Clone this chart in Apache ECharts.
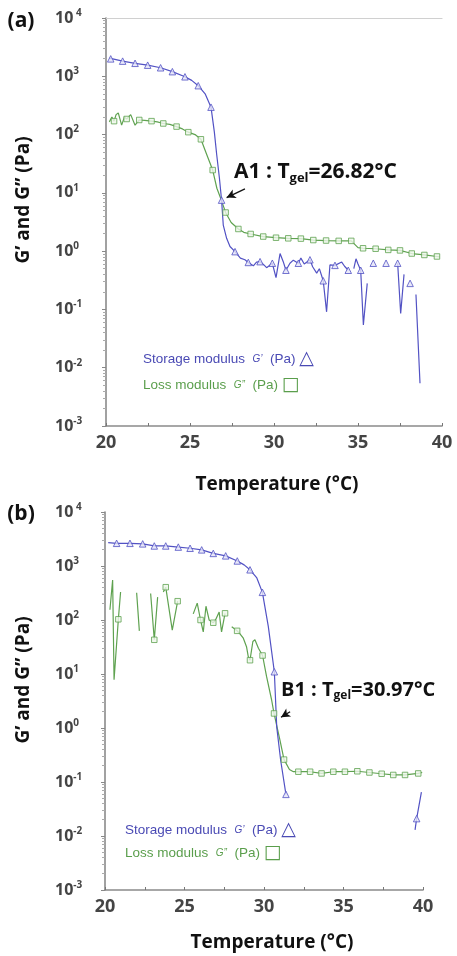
<!DOCTYPE html>
<html><head><meta charset="utf-8">
<script src="https://cdn.jsdelivr.net/npm/echarts@6/dist/echarts.min.js"></script>
<style>html,body{margin:0;padding:0;background:#fff}#c{width:457px;height:956px}</style>
</head><body><div id="c"></div>
<script>
// ---------- Panel (a) ----------
const aStorageLine = [[20.2,2050],[20.28,1990],[20.99,1820],[21.73,1670],[22.48,1550],[23.25,1400],[23.95,1200],[24.7,980],[25.1,850],[25.49,690],[25.9,500],[26.25,295],[26.45,110],[26.59,45],[26.75,18],[26.88,7.5],[26.98,2.8],[27.18,1.66],[27.38,1.2],[27.68,0.98],[28.0,0.76],[28.27,0.71],[28.47,0.64],[28.77,0.56],[28.96,0.65],[29.17,0.66],[29.4,0.58],[29.56,0.52],[29.9,0.62],[30.12,0.35],[30.36,0.91],[30.55,0.66],[30.71,0.47],[30.95,0.62],[31.15,0.7],[31.45,0.62],[31.6,0.76],[31.8,0.6],[32.14,0.71],[32.3,0.54],[32.54,0.42],[32.7,0.5],[32.93,0.31],[33.13,0.091],[33.33,0.58],[33.63,0.57],[34.03,0.65],[34.2,0.55],[34.42,0.47],[34.6,null],[34.75,0.5],[34.88,0.74],[35.0,0.6],[35.16,0.47],[35.32,0.054],[35.55,0.28],[35.7,null],[35.91,0.62],[36.3,null],[36.67,0.62],[37.0,null],[37.36,0.62],[37.54,0.085],[37.74,0.4],[37.9,null],[38.1,0.28],[38.3,null],[38.45,0.18],[38.69,0.0054]];
const aStorageMarks = [[20.28,1990],[20.99,1820],[21.73,1670],[22.48,1550],[23.25,1400],[23.95,1200],[24.7,980],[25.49,690],[26.25,295],[26.88,7.5],[27.68,0.98],[28.47,0.64],[29.17,0.66],[29.9,0.62],[30.71,0.47],[31.45,0.62],[32.14,0.71],[32.93,0.31],[33.63,0.57],[34.42,0.47],[35.16,0.47],[35.91,0.62],[36.67,0.62],[37.36,0.62],[38.1,0.28]];
const aLossLine = [[20.2,165],[20.35,200],[20.48,170],[20.6,220],[20.73,235],[20.93,145],[21.1,200],[21.23,185],[21.47,220],[21.73,145],[21.98,178],[22.3,175],[22.71,170],[23.05,165],[23.41,155],[23.8,150],[24.2,137],[24.55,125],[24.9,110],[25.3,100],[25.65,83],[26.0,45],[26.35,24.6],[26.6,12],[26.88,7.3],[27.12,4.6],[27.45,3.1],[27.88,2.4],[28.2,2.1],[28.61,1.97],[29.36,1.78],[30.12,1.7],[30.85,1.66],[31.6,1.64],[32.34,1.55],[33.1,1.52],[33.85,1.5],[34.6,1.5],[35.0,1.15],[35.3,1.12],[36.05,1.1],[36.8,1.05],[37.5,1.03],[38.2,0.91],[38.95,0.86],[39.7,0.81],[39.85,0.8]];
const aLossMarks = [[20.48,170],[21.23,185],[21.98,178],[22.71,170],[23.41,155],[24.2,137],[24.9,110],[25.65,83],[26.35,24.6],[27.12,4.6],[27.88,2.4],[28.61,1.97],[29.36,1.78],[30.12,1.7],[30.85,1.66],[31.6,1.64],[32.34,1.55],[33.1,1.52],[33.85,1.5],[34.6,1.5],[35.3,1.12],[36.05,1.1],[36.8,1.05],[37.5,1.03],[38.2,0.91],[38.95,0.86],[39.7,0.81]];
const aArrow = [[28.27,11.7],[27.18,8.3]];

// ---------- Panel (b) ----------
const bStorageLine = [[20.2,2700],[20.73,2630],[21.57,2630],[22.37,2570],[23.1,2350],[23.82,2350],[24.61,2240],[25.35,2130],[26.08,1990],[26.81,1710],[27.59,1540],[28.32,1240],[28.75,1050],[29.12,850],[29.55,600],[29.9,325],[30.27,76],[30.65,11],[30.8,1.05],[31.05,0.25],[31.38,0.059],[35,null],[39.5,0.013],[39.6,0.021],[39.9,0.065]];
const bStorageMarks = [[20.73,2630],[21.57,2630],[22.37,2570],[23.1,2350],[23.82,2350],[24.61,2240],[25.35,2130],[26.08,1990],[26.81,1710],[27.59,1540],[28.32,1240],[29.12,850],[29.9,325],[30.65,11],[31.38,0.059],[39.6,0.021]];
const bLossLine = [[20.31,155],[20.48,550],[20.57,7.8],[20.84,103],[20.98,330],[21.5,null],[21.99,320],[22.16,63],[22.5,null],[22.87,310],[23.1,43],[23.31,265],[23.5,null],[23.67,330],[23.82,405],[24.23,65],[24.57,223],[25.0,null],[25.55,130],[25.8,205],[26.01,100],[26.18,60],[26.35,180],[26.55,100],[26.81,89],[26.95,100],[27.18,140],[27.33,60],[27.55,133],[27.75,null],[27.97,75],[28.31,63],[28.5,55],[28.7,46],[28.9,32],[29.01,21],[29.12,18],[29.3,40],[29.43,43],[29.65,30],[29.91,22],[30.16,9],[30.48,3.3],[30.63,1.86],[31.0,0.6],[31.26,0.26],[31.6,0.17],[31.85,0.155],[32.16,0.155],[32.9,0.155],[33.62,0.144],[34.36,0.155],[35.09,0.155],[35.87,0.158],[36.63,0.15],[37.4,0.142],[38.13,0.135],[38.87,0.135],[39.7,0.144],[39.95,0.15]];
const bLossMarks = [[20.84,103],[23.1,43],[23.82,405],[24.57,223],[26.01,100],[26.81,89],[27.55,133],[28.31,63],[29.12,18],[29.91,22],[30.63,1.86],[31.26,0.26],[32.16,0.155],[32.9,0.155],[33.62,0.144],[34.36,0.155],[35.09,0.155],[35.87,0.158],[36.63,0.15],[37.4,0.142],[38.13,0.135],[38.87,0.135],[39.7,0.144]];
const bArrow = [[31.64,2.0],[31.07,1.58]];

const xTicks = [20,25,30,35,40];
const yMin = 0.001, yMax = 10000;

const BLUE = '#5252c4', GREEN = '#5fa250';
const FONT = 'Open Sans';

function xAxis(grid){
  return {type:'value', gridIndex:grid, min:20, max:40, interval:2.5,
    axisLine:{lineStyle:{color:'#8a8a8a', width:1.6}},
    axisTick:{show:true, inside:true, length:3, lineStyle:{color:'#777'}},
    splitLine:{show:false},
    axisLabel:{margin:8, color:'#444', fontSize:18, fontWeight:'bold', fontFamily:FONT,
      formatter:v=> xTicks.indexOf(v)>=0 ? String(v) : ''}};
}
function yAxis(grid, margin){
  return {type:'log', logBase:10, gridIndex:grid, min:yMin, max:yMax, splitNumber:7,
    axisLine:{show:true, lineStyle:{color:'#8a8a8a', width:1.6}},
    axisTick:{show:true, length:4, lineStyle:{color:'#888'}},
    minorTick:{show:true, splitNumber:9, length:3, lineStyle:{color:'#aaa'}},
    splitLine:{show:false},
    axisLabel:{margin:margin, align:'left',
      formatter:v=>{const e=Math.round(Math.log10(v)); return e===4 ? '{n|10}{s| 4}' : '{n|10}{s|'+e+'}';},
      rich:{n:{fontSize:16, fontWeight:'bold', color:'#444', fontFamily:FONT, lineHeight:20},
            s:{fontSize:10, fontWeight:'bold', color:'#444', fontFamily:FONT, verticalAlign:'top', lineHeight:12}}}};
}
function lineS(data, color, xi, yi, arrow){
  const s = {type:'line', xAxisIndex:xi, yAxisIndex:yi, data:data, showSymbol:false, symbol:'none',
    connectNulls:false, lineStyle:{color:color, width:1.2}, itemStyle:{color:color}, silent:true, z:2};
  if(arrow){
    s.markLine = {silent:true, symbol:['none','arrow'], symbolSize:[7,9], label:{show:false},
      lineStyle:{color:'#111', width:1.3, type:'solid'},
      data:[[{coord:arrow[0]},{coord:arrow[1]}]]};
  }
  return s;
}
function markS(data, sym, color, fill, xi, yi, size){
  return {type:'scatter', xAxisIndex:xi, yAxisIndex:yi, data:data, symbol:sym, symbolSize:size,
    itemStyle:{color:fill, borderColor:color, borderWidth:1}, silent:true, z:3};
}
function legend(x, y1, y2){
  return [
    {type:'text', x:x, y:y1, style:{text:'{t|Storage modulus  }{g|G’}{t|  (Pa) }{i|△}', textVerticalAlign:'middle',
      rich:{t:{fontSize:13.5, fontFamily:'Liberation Sans', fill:'#4a4ab4'}, g:{fontSize:10, fontStyle:'italic', fontFamily:'Liberation Sans', fill:'#4a4ab4'}, i:{fontSize:19, fill:'#4a4ab4', fontFamily:'DejaVu Sans'}}}},
    {type:'text', x:x, y:y2, style:{text:'{t|Loss modulus  }{g|G”}{t|  (Pa) }{i|□}', textVerticalAlign:'middle',
      rich:{t:{fontSize:13.5, fontFamily:'Liberation Sans', fill:'#5a9e4c'}, g:{fontSize:10, fontStyle:'italic', fontFamily:'Liberation Sans', fill:'#5a9e4c'}, i:{fontSize:19, fill:'#5a9e4c', fontFamily:'DejaVu Sans'}}}}
  ];
}
function annot(x, y, label, temp, size){
  return {type:'text', x:x, y:y, style:{text:'{a|'+label+' : T}{s|gel}{a|='+temp+'°C}', textVerticalAlign:'middle',
    rich:{a:{fontSize:size, fontWeight:'bold', fontFamily:FONT, fill:'#111', lineHeight:size+4},
          s:{fontSize:Math.round(size*0.62), fontWeight:'bold', fontFamily:FONT, fill:'#111', verticalAlign:'bottom', lineHeight:Math.round(size*0.62)}}}};
}
function bigText(x, y, t, size, rot){
  return {type:'text', x:x, y:y, rotation:rot||0, style:{text:t, fontSize:size, fontWeight:'bold', fontFamily:FONT, fill:'#111', textAlign:'center', textVerticalAlign:'middle'}};
}

const chart = echarts.init(document.getElementById('c'), null, {renderer:'canvas'});
const topAxis = {type:'value', gridIndex:0, position:'top', min:20, max:40, axisLine:{show:true, lineStyle:{color:'#d0d0d0', width:1.2}}, axisTick:{show:false}, axisLabel:{show:false}, splitLine:{show:false}};
chart.setOption({
  animation:false,
  backgroundColor:'#fff',
  grid:[{left:106, top:18, width:336, height:408}, {left:105, top:512, width:318, height:378}],
  xAxis:[xAxis(0), topAxis, xAxis(1)],
  yAxis:[yAxis(0,51), yAxis(1,50)],
  series:[
    lineS(aLossLine, GREEN, 0, 0),
    lineS(aStorageLine, BLUE, 0, 0, aArrow),
    markS(aLossMarks, 'rect', GREEN, '#eef6ea', 0, 0, 5.5),
    markS(aStorageMarks, 'triangle', BLUE, '#e4e4f8', 0, 0, 6.5),
    lineS(bLossLine, GREEN, 2, 1),
    lineS(bStorageLine, BLUE, 2, 1, bArrow),
    markS(bLossMarks, 'rect', GREEN, '#eef6ea', 2, 1, 5.5),
    markS(bStorageMarks, 'triangle', BLUE, '#e4e4f8', 2, 1, 6.5)
  ],
  graphic:[
    bigText(21, 21, '(a)', 21),
    bigText(21, 514, '(b)', 21),
    bigText(24, 200, 'G’ and G” (Pa)', 19, Math.PI/2),
    bigText(24, 680, 'G’ and G” (Pa)', 19, Math.PI/2),
    bigText(277, 485, 'Temperature (°C)', 19),
    bigText(272, 943, 'Temperature (°C)', 19),
    annot(234, 172, 'A1', '26.82', 21),
    annot(281, 690, 'B1', '30.97', 20),
    ...legend(143, 359, 385),
    ...legend(125, 830, 853)
  ]
});
</script></body></html>
